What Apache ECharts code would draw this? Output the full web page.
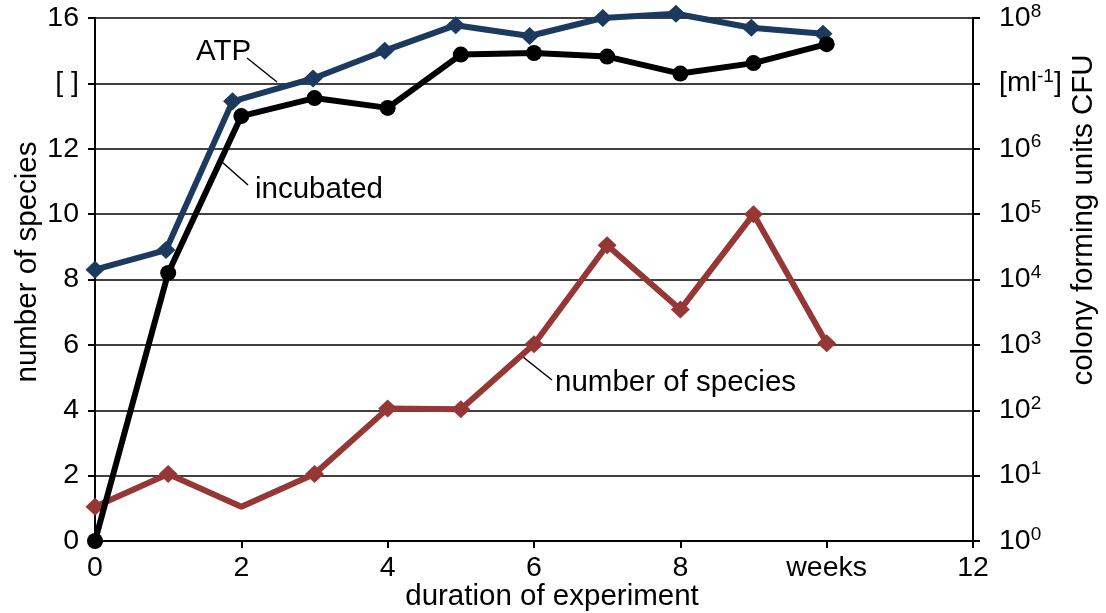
<!DOCTYPE html>
<html><head><meta charset="utf-8">
<script src="https://cdn.jsdelivr.net/npm/echarts@6/dist/echarts.min.js"></script>
<style>html,body{margin:0;padding:0;background:#fff}#c{width:1106px;height:613px}</style>
</head><body><div id="c"></div>
<script>
const weeks = [0,1,2,3,4,5,6,7,8,9,10];
const atpWeeks = [0,0.97,1.88,2.98,3.96,4.93,5.94,6.94,7.94,8.97,9.95];
const atp = [8.3,8.9,13.45,14.15,15.0,15.78,15.45,16.0,16.13,15.7,15.52];
const incubated = [0,8.2,13.0,13.55,13.25,14.88,14.93,14.82,14.3,14.62,15.2];
const species = [1.05,2.05,1.05,2.05,4.05,4.03,6.02,9.05,7.08,10.0,6.05];
const speciesMarker = [true,true,false,true,true,true,true,true,true,true,true];
const leftTicks = {0:'0',2:'2',4:'4',6:'6',8:'8',10:'10',12:'12',14:'[ ]',16:'16'};
const rightExp = {0:'0',2:'1',4:'2',6:'3',8:'4',10:'5',12:'6',16:'8'};
const xTicks = {0:'0',2:'2',4:'4',6:'6',8:'8',10:'weeks',12:'12'};

const FONT = '"Liberation Sans", Arial, sans-serif';
const FS = 28.5;
const GF = '29.5px ' + FONT;
const chart = echarts.init(document.getElementById('c'));
chart.setOption({
  animation:false,
  textStyle:{fontFamily:FONT},
  grid:{left:95,right:133,top:18,bottom:72},
  xAxis:{type:'value',min:0,max:12,interval:2,
    axisLine:{lineStyle:{color:'#000',width:2}},
    axisTick:{show:true,length:7,lineStyle:{color:'#000',width:2}},
    axisLabel:{color:'#000',fontSize:FS,fontFamily:FONT,margin:13,formatter:v=>xTicks[v]!==undefined?xTicks[v]:''},
    splitLine:{show:false}},
  yAxis:[
    {type:'value',min:0,max:16,interval:2,position:'left',
     axisLine:{show:true,lineStyle:{color:'#000',width:2}},
     axisTick:{show:true,length:7,lineStyle:{color:'#000',width:2}},
     axisLabel:{color:'#000',fontSize:FS,fontFamily:FONT,margin:16,formatter:v=>leftTicks[v]!==undefined?leftTicks[v]:''},
     splitLine:{show:true,lineStyle:{color:'#000',width:1.6}}},
    {type:'value',min:0,max:16,interval:2,position:'right',
     axisLine:{show:true,lineStyle:{color:'#000',width:2}},
     axisTick:{show:true,length:7,lineStyle:{color:'#000',width:2}},
     axisLabel:{color:'#000',fontSize:FS,fontFamily:FONT,margin:26,
       formatter:v=>{ if(v===14) return '{b|[ml}{s|-1}{b|]}'; return '{b|10}{s|'+rightExp[v]+'}'; },
       rich:{b:{fontSize:FS,fontFamily:FONT,color:'#000'},s:{fontSize:19,fontFamily:FONT,color:'#000',verticalAlign:'top',padding:[0,0,13,0]}}},
     splitLine:{show:false}}
  ],
  series:[
    {name:'number of species',type:'line',z:2,clip:false,
     data:weeks.map((w,i)=>({value:[w,species[i]],symbol:speciesMarker[i]?'diamond':'none'})),
     symbol:'diamond',symbolSize:[19,18],
     lineStyle:{color:'#953735',width:6},itemStyle:{color:'#953735'}},
    {name:'ATP',type:'line',z:3,clip:false,
     data:atpWeeks.map((w,i)=>[w,atp[i]]),
     symbol:'diamond',symbolSize:[19,18],
     lineStyle:{color:'#1c3a5e',width:6},itemStyle:{color:'#1c3a5e'}},
    {name:'incubated',type:'line',z:4,clip:false,
     data:weeks.map((w,i)=>[w,incubated[i]]),
     symbol:'circle',symbolSize:16,
     lineStyle:{color:'#000',width:6},itemStyle:{color:'#000'}}
  ],
  graphic:[
    {type:'text',x:28,y:262,rotation:Math.PI/2,style:{text:'number of species',font:GF,fill:'#000',align:'center',verticalAlign:'middle'}},
    {type:'text',x:1084,y:220,rotation:Math.PI/2,style:{text:'colony forming units CFU',font:GF,fill:'#000',align:'center',verticalAlign:'middle'}},
    {type:'text',x:552,y:597,style:{text:'duration of experiment',font:GF,fill:'#000',align:'center',verticalAlign:'middle'}},
    {type:'text',x:196,y:52,style:{text:'ATP',font:GF,fill:'#000',align:'left',verticalAlign:'middle'}},
    {type:'line',shape:{x1:247,y1:58,x2:277,y2:82},style:{stroke:'#000',lineWidth:1.5}},
    {type:'text',x:255,y:190,style:{text:'incubated',font:GF,fill:'#000',align:'left',verticalAlign:'middle'}},
    {type:'line',shape:{x1:222,y1:162,x2:248,y2:185},style:{stroke:'#000',lineWidth:1.5}},
    {type:'text',x:555,y:383,style:{text:'number of species',font:GF,fill:'#000',align:'left',verticalAlign:'middle'}},
    {type:'line',shape:{x1:523,y1:357,x2:552,y2:380},style:{stroke:'#000',lineWidth:1.5}}
  ]
});
</script></body></html>
